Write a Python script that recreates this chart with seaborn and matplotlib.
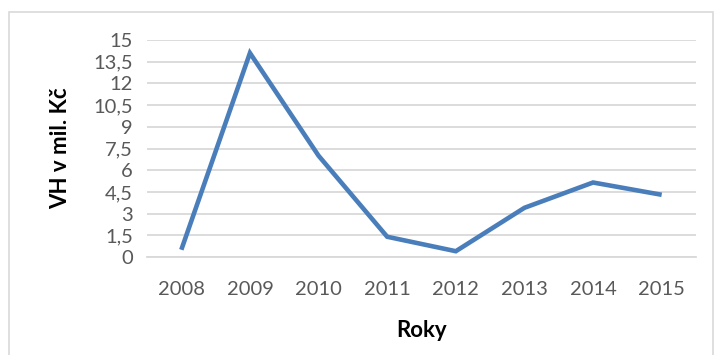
import matplotlib
matplotlib.use("Agg")
import matplotlib.pyplot as plt
from matplotlib.patches import Rectangle
from matplotlib.ticker import FixedLocator, FuncFormatter
import seaborn as sns
import pandas as pd

# Profit/loss (VH) in millions CZK per year
years = ["2008", "2009", "2010", "2011", "2012", "2013", "2014", "2015"]
vh_values = [0.5, 14.1, 7.0, 1.4, 0.4, 3.4, 5.15, 4.3]
y_ticks = [0, 1.5, 3, 4.5, 6, 7.5, 9, 10.5, 12, 13.5, 15]

sns.set_theme(style="white")
plt.rcParams["font.family"] = ["Lato", "DejaVu Sans"]

W, H = 715, 355
fig = plt.figure(figsize=(W / 100, H / 100), dpi=100)
fig.patch.set_facecolor("white")

# light frame around the chart area
fig.add_artist(Rectangle((9 / W, -0.05), (713 - 9) / W, 1.05 - 12 / H,
                         transform=fig.transFigure, fill=False,
                         edgecolor="#D9D9D9", linewidth=1.2))

ax = fig.add_axes([147 / W, 1 - 257 / H, (696 - 147) / W, (257 - 40) / H])

df = pd.DataFrame({"Roky": years, "VH": vh_values})
sns.lineplot(data=df, x="Roky", y="VH", sort=False, ax=ax,
             color="#4A7EBB", linewidth=3.3, solid_capstyle="butt",
             solid_joinstyle="miter")

ax.set_xlim(-0.5, len(years) - 0.5)
ax.set_ylim(0, 15)
ax.yaxis.set_major_locator(FixedLocator(y_ticks))
ax.yaxis.set_major_formatter(
    FuncFormatter(lambda v, p: f"{v:g}".replace(".", ",")))
ax.grid(axis="y", color="#D9D9D9", linewidth=1.3)
ax.grid(axis="x", visible=False)
ax.set_axisbelow(True)
for side in ["top", "right", "left"]:
    ax.spines[side].set_visible(False)
ax.spines["bottom"].set_color("#D9D9D9")
ax.spines["bottom"].set_linewidth(1.3)

ax.tick_params(axis="both", length=0, labelsize=14.5, labelcolor="#595959")
ax.tick_params(axis="y", pad=10)
ax.tick_params(axis="x", pad=17)

ax.set_xlabel("Roky", fontsize=16, fontweight="bold", color="#000000",
              labelpad=16)
ax.set_ylabel("VH v mil. Kč", fontsize=16, fontweight="bold",
              color="#000000", labelpad=16)

fig.savefig("out.png", dpi=100)
